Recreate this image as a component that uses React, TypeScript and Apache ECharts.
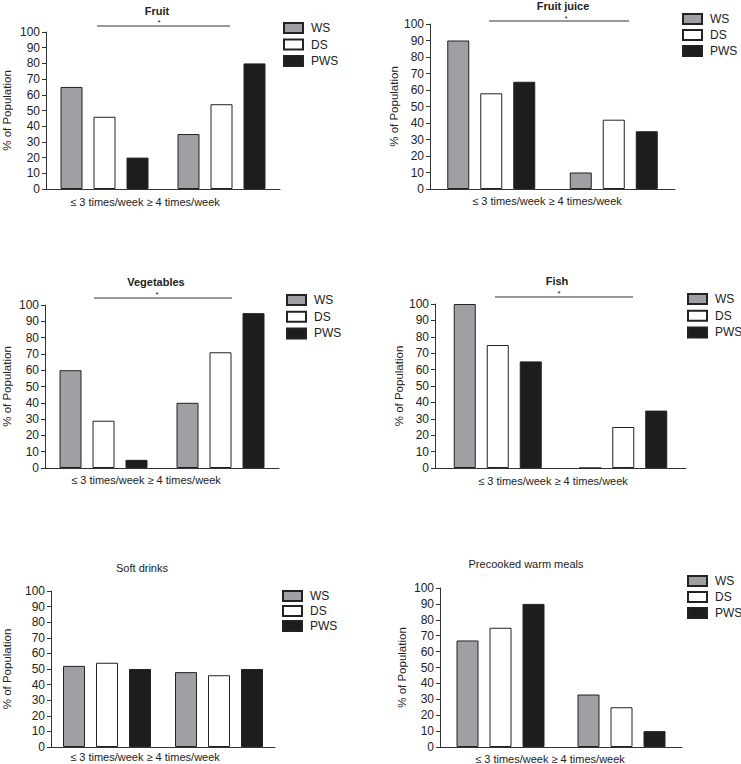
import React, { useEffect, useRef } from "react";
import * as echarts from "echarts";

const categories = ["≤ 3 times/week", "≥ 4 times/week"];
const groupNames = ["WS", "DS", "PWS"];
const panelTitles = ["Fruit", "Fruit juice", "Vegetables", "Fish", "Soft drinks", "Precooked warm meals"];
const xAxisText = "≤ 3 times/week ≥ 4 times/week";
const yAxisName = "% of Population";

const fruitWS = [65, 35];
const fruitDS = [46, 54];
const fruitPWS = [20, 80];

const juiceWS = [90, 10];
const juiceDS = [58, 42];
const juicePWS = [65, 35];

const vegWS = [60, 40];
const vegDS = [29, 71];
const vegPWS = [5, 95];

const fishWS = [100, 0];
const fishDS = [75, 25];
const fishPWS = [65, 35];

const softWS = [52, 48];
const softDS = [54, 46];
const softPWS = [50, 50];

const mealsWS = [67, 33];
const mealsDS = [75, 25];
const mealsPWS = [90, 10];

const panelData = [
  [fruitWS, fruitDS, fruitPWS],
  [juiceWS, juiceDS, juicePWS],
  [vegWS, vegDS, vegPWS],
  [fishWS, fishDS, fishPWS],
  [softWS, softDS, softPWS],
  [mealsWS, mealsDS, mealsPWS],
];
const significant = [true, true, true, true, false, false];

const FONT = "'Liberation Sans', Arial, Helvetica, sans-serif";
const fills = ["#a0a0a4", "#ffffff", "#1d1d1f"];
const AXIS = "#333333";
const TEXT = "#222222";

// layout (pixels)
const layouts = [
  { left: 43, top: 32, width: 237, height: 157, tx: 157, ty: 11, bold: true, sig: [97, 230, 26], star: [159, 22], xl: [145, 202], gap: 33, lg: [283, 22, 4.5] },
  { left: 430, top: 24, width: 245, height: 165, tx: 563, ty: 6, bold: true, sig: [489, 629, 21], star: [566, 18], xl: [547, 201], gap: 28, lg: [682, 13, 4] },
  { left: 40, top: 305, width: 239, height: 163, tx: 156, ty: 282, bold: true, sig: [94, 232, 298], star: [157, 294], xl: [146, 480], gap: 32, lg: [286, 294, 4.7] },
  { left: 435, top: 304, width: 251, height: 164, tx: 557, ty: 281, bold: true, sig: [495, 633, 297], star: [559, 293], xl: [553, 481], gap: 25, lg: [687, 293, 4.7] },
  { left: 42, top: 591, width: 233, height: 156, tx: 142, ty: 568, bold: false, sig: null, star: null, xl: [145, 757], gap: 38, lg: [282, 590, 3] },
  { left: 440, top: 588, width: 242, height: 159, tx: 526, ty: 564, bold: false, sig: null, star: null, xl: [550, 759], gap: 32, lg: [687, 575, 4] },
];

function textEl(text: string, x: number, y: number, size: number, weight: string = "normal") {
  return {
    type: "text",
    x,
    y,
    silent: true,
    style: {
      text,
      fill: TEXT,
      font: `${weight} ${size}px ${FONT}`,
      fontSize: size,
      fontWeight: weight,
      fontFamily: FONT,
      align: "center",
      verticalAlign: "middle",
      textAlign: "center",
      textVerticalAlign: "middle",
    },
  };
}

export default function App() {
  const ref = useRef<HTMLDivElement>(null);
  useEffect(() => {
    if (!ref.current) return;
    const chart = echarts.init(ref.current, undefined, { renderer: "svg" });

    const grid = layouts.map((l) => ({ left: l.left, top: l.top, width: l.width, height: l.height, containLabel: false }));
    const xAxis = layouts.map((_, i) => ({
      type: "category",
      gridIndex: i,
      data: categories,
      axisLine: { show: true, lineStyle: { color: AXIS, width: 1 } },
      axisTick: { show: false },
      axisLabel: { show: false },
    }));
    const yAxis = layouts.map((l, i) => ({
      type: "value",
      gridIndex: i,
      min: 0,
      max: 100,
      interval: 10,
      name: yAxisName,
      nameLocation: "middle",
      nameGap: l.gap,
      nameTextStyle: { fontSize: 11.5, color: TEXT, fontFamily: FONT },
      axisLine: { show: true, lineStyle: { color: AXIS, width: 1 } },
      axisTick: { show: true, length: 4, lineStyle: { color: AXIS } },
      splitLine: { show: false },
      axisLabel: { fontSize: 12, color: TEXT, fontFamily: FONT, margin: 6 },
    }));
    const series: any[] = [];
    panelData.forEach((panel, p) => {
      panel.forEach((values, g) => {
        series.push({
          type: "bar",
          name: groupNames[g],
          xAxisIndex: p,
          yAxisIndex: p,
          data: values,
          barWidth: 22,
          barGap: "50%",
          itemStyle: { color: fills[g], borderColor: "#222222", borderWidth: 1 },
          emphasis: { disabled: true },
        });
      });
    });
    const legend = layouts.map((l) => ({
      data: groupNames,
      orient: "vertical",
      left: l.lg[0],
      top: l.lg[1],
      itemGap: l.lg[2],
      itemWidth: 19,
      itemHeight: 10,
      icon: "rect",
      padding: 0,
      selectedMode: false,
      textStyle: { fontSize: 12, color: TEXT, fontFamily: FONT, lineHeight: 12, padding: [0, 0, 0, 3] },
    }));

    const graphic: any[] = [];
    layouts.forEach((l, i) => {
      graphic.push(textEl(panelTitles[i], l.tx, l.ty, 11, l.bold ? "bold" : "normal"));
      graphic.push(textEl(xAxisText, l.xl[0], l.xl[1], 11));
      if (significant[i] && l.sig && l.star) {
        graphic.push({
          type: "line",
          silent: true,
          shape: { x1: l.sig[0], y1: l.sig[2], x2: l.sig[1], y2: l.sig[2] },
          style: { stroke: AXIS, lineWidth: 1 },
        });
        graphic.push(textEl("*", l.star[0], l.star[1], 8));
      }
    });

    chart.setOption({
      animation: false,
      backgroundColor: "#ffffff",
      textStyle: { fontFamily: FONT },
      grid,
      xAxis,
      yAxis,
      series,
      legend,
      graphic,
    });
    return () => chart.dispose();
  }, []);
  return <div ref={ref} style={{ position: "fixed", left: 0, top: 0, width: 741, height: 764 }} />;
}
